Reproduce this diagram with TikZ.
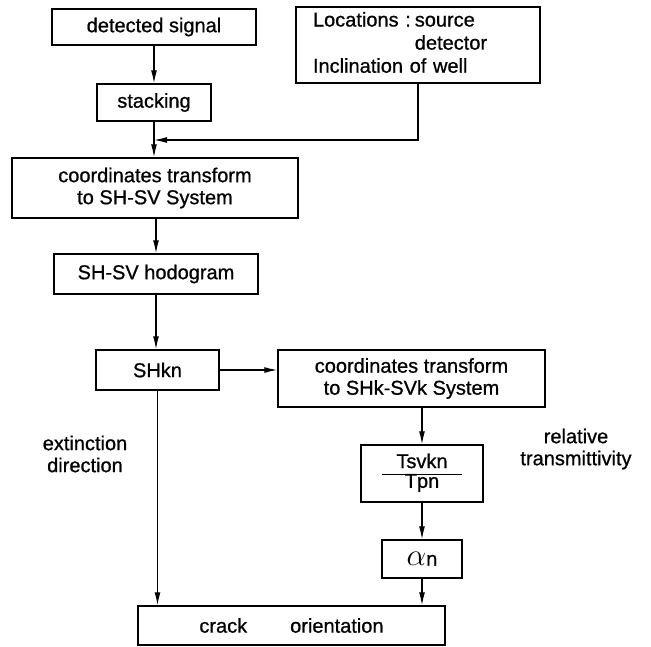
\documentclass[tikz,border=0pt]{standalone}
\usepackage{fontspec}
\setmainfont{Liberation Sans}[FakeBold=0.8]
\usetikzlibrary{arrows.meta}
\begin{document}
\begin{tikzpicture}[
        x=1pt, y=-1pt,
        font=\fontsize{20}{22}\selectfont,
        box/.style={draw, line width=1.5pt, inner sep=0pt, align=center},
        flow/.style={line width=1.2pt, -{Latex[length=13pt,width=6pt]}},
    ]
  \useasboundingbox (0,0) rectangle (651,646);
  % left column
  \node[box, minimum width=204pt, minimum height=36pt] (signal) at (154,27) {detected signal};
  \node[box, minimum width=244pt, minimum height=76pt, text width=210pt, align=left] (loc) at (418,45)
    {\renewcommand{\arraystretch}{1.05}%
     \begin{tabular}{@{}l@{\hspace{4pt}}l@{}}Locations :&source\\&detector\\
       \multicolumn{2}{@{}l@{}}{Inclination of well}\end{tabular}};
  \node[box, minimum width=114pt, minimum height=37pt] (stack) at (154,102.5) {stacking};
  \node[box, minimum width=286pt, minimum height=60pt] (trans) at (155,188)
    {coordinates transform\\to SH-SV System};
  \node[box, minimum width=204pt, minimum height=40pt] (hodo) at (156,274) {SH-SV hodogram};
  \node[box, minimum width=123pt, minimum height=40pt] (shkn) at (157.5,370) {SHkn};
  % right column
  \node[box, minimum width=267pt, minimum height=57pt] (transk) at (411.5,378.5)
    {coordinates transform\\to SHk-SVk System};
  \node[box, minimum width=122pt, minimum height=57pt] (ratio) at (422,473.5)
    {\renewcommand{\arraystretch}{0.85}%
     \begin{tabular}{@{\hspace{14pt}}c@{\hspace{14pt}}}Tsvkn\\\hline Tpn\end{tabular}};
  \node[box, minimum width=80pt, minimum height=38pt] (alpha) at (422,559)
    {\scalebox{1.5}{$\alpha$}n};
  \node[box, minimum width=307pt, minimum height=39pt] (crack) at (291.5,625.5)
    {crack\hspace{43pt}orientation};
  % labels
  \node[align=center] (ext) at (85,454) {extinction\\direction};
  \node[align=center] (rel) at (576,449) {relative\\transmittivity};
  \coordinate (join) at (154,140);
  % connectors
  \draw[flow] (signal.south) -- (stack.north);
  \draw[flow] (stack.south) -- (stack.south |- trans.north);
  \draw[flow] (loc.south) |- (join);
  \draw[flow] (trans.south -| hodo.north) -- (hodo.north);
  \draw[flow] (hodo.south) -- (hodo.south |- shkn.north);
  \draw[flow] (shkn.east) -- (transk.west |- shkn.east);
  \draw[flow] (shkn.south) -- (shkn.south |- crack.north);
  \draw[flow] (ratio.north |- transk.south) -- (ratio.north);
  \draw[flow] (ratio.south) -- (alpha.north);
  \draw[flow] (alpha.south) -- (alpha.south |- crack.north);
\end{tikzpicture}
\end{document}
